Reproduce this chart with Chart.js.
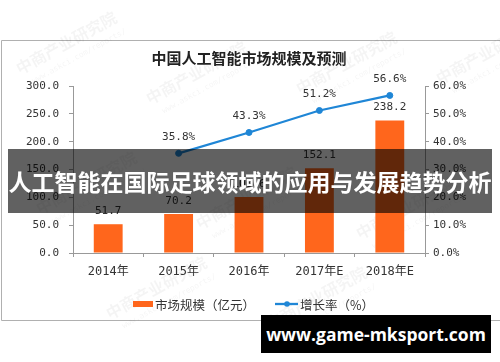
<!DOCTYPE html>
<html><head><meta charset="utf-8">
<script src="https://cdn.jsdelivr.net/npm/chart.js@4"></script>
<style>
html,body{margin:0;padding:0;background:#fff;}
#wrap{position:relative;width:500px;height:362px;overflow:hidden;background:#fff;}
#c{position:absolute;left:0;top:0;}
#banner{position:absolute;left:8px;top:149px;width:484px;height:64px;background:rgba(0,0,0,0.62);color:#fff;font:bold 23px "Noto Sans CJK SC",sans-serif;line-height:64px;text-align:center;white-space:nowrap;letter-spacing:0px;}
#site{position:absolute;left:261px;top:315px;width:230px;height:38px;background:#000;color:#fff;font:bold 17.5px "Open Sans","Noto Sans",sans-serif;line-height:38px;text-align:center;white-space:nowrap;}
</style></head>
<body>
<div id="wrap">
<canvas id="c" width="500" height="362"></canvas>
<div id="banner">人工智能在国际足球领域的应用与发展趋势分析</div>
<div id="site">www.game-mksport.com</div>
</div>
<script>
const categories = ['2014年','2015年','2016年','2017年E','2018年E'];
const marketSize = [51.7, 70.2, 100.6, 152.1, 238.2];
const growthRate = [null, 35.8, 43.3, 51.2, 56.6];
const leftTicks = [0, 50, 100, 150, 200, 250, 300];
const rightTicks = [0, 10, 20, 30, 40, 50, 60];
const chartTitle = '中国人工智能市场规模及预测';
const legendLabels = ['市场规模（亿元）', '增长率（%）'];

const ORANGE = '#ff661c';
const BLUE = '#1f86d6';
const MONO = '"DejaVu Sans Mono","Noto Sans CJK SC",monospace';
const CJK = '"Noto Sans CJK SC",sans-serif';

const decor = {
  id: 'decor',
  beforeDraw(chart) {
    const ctx = chart.ctx;
    ctx.save();
    ctx.strokeStyle = '#b0b0b0';
    ctx.lineWidth = 1;
    ctx.beginPath();
    ctx.moveTo(500, 40.5); ctx.lineTo(1.5, 40.5); ctx.lineTo(1.5, 320.5); ctx.lineTo(500, 320.5);
    ctx.stroke();
    // faint watermarks
    ctx.fillStyle = 'rgba(0,0,0,0.045)';
    const marks = [[20,75],[150,105],[300,95],[440,85],[40,215],[200,230],[360,240],[110,320],[270,330]];
    marks.forEach(([x,y]) => {
      ctx.save(); ctx.translate(x, y); ctx.rotate(-0.5);
      ctx.font = 'bold 16px ' + CJK;
      ctx.fillText('中商产业研究院', 0, 0);
      ctx.font = '8px ' + MONO;
      ctx.fillText('www.askci.com/reports/', 8, 14);
      ctx.restore();
    });
    ctx.restore();
  },
  afterDatasetsDraw(chart) {
    const ctx = chart.ctx;
    ctx.save();
    ctx.font = '11px ' + MONO;
    ctx.fillStyle = '#333';
    ctx.textAlign = 'center';
    ctx.textBaseline = 'middle';
    chart.getDatasetMeta(1).data.forEach((el, i) => {
      ctx.fillText(marketSize[i].toFixed(1), el.x, el.y - 13);
    });
    chart.getDatasetMeta(0).data.forEach((el, i) => {
      if (growthRate[i] != null) ctx.fillText(growthRate[i].toFixed(1) + '%', el.x, el.y - 16);
    });
    // title
    ctx.font = 'bold 15px ' + CJK;
    ctx.fillStyle = '#222';
    ctx.fillText(chartTitle, 249, 58);
    // legend
    ctx.fillStyle = ORANGE;
    ctx.fillRect(133, 301, 20, 6);
    ctx.fillStyle = '#333';
    ctx.textAlign = 'left';
    ctx.font = '12.5px ' + CJK;
    ctx.fillText(legendLabels[0], 155, 305);
    ctx.strokeStyle = BLUE; ctx.lineWidth = 2.3;
    ctx.beginPath(); ctx.moveTo(275, 304); ctx.lineTo(298, 304); ctx.stroke();
    ctx.fillStyle = BLUE;
    ctx.beginPath(); ctx.arc(287, 304, 2.8, 0, Math.PI * 2); ctx.fill();
    ctx.fillStyle = '#333';
    ctx.fillText(legendLabels[1], 300, 305);
    ctx.restore();
  }
};

new Chart(document.getElementById('c'), {
  data: {
    labels: categories,
    datasets: [
      { type: 'line', label: legendLabels[1], data: growthRate, yAxisID: 'y1', order: 0,
        borderColor: BLUE, backgroundColor: BLUE, borderWidth: 2.3, pointRadius: 3, pointBorderWidth: 1,
        pointBackgroundColor: BLUE, pointBorderColor: BLUE, tension: 0, spanGaps: false },
      { type: 'bar', label: legendLabels[0], data: marketSize, yAxisID: 'y', order: 1,
        backgroundColor: ORANGE, barPercentage: 0.41, categoryPercentage: 1.0 }
    ]
  },
  options: {
    responsive: false,
    animation: false,
    devicePixelRatio: 1,
    layout: { padding: { top: 86, left: 0, right: 0, bottom: 0 } },
    plugins: { legend: { display: false }, title: { display: false }, tooltip: { enabled: false } },
    scales: {
      x: {
        offset: true,
        grid: { display: true, drawOnChartArea: false, drawTicks: true, tickLength: 4, color: '#999', offset: true },
        border: { color: '#999' },
        ticks: { font: { family: MONO, size: 12 }, color: '#333', padding: 8, maxRotation: 0 },
        afterFit(s) { s.height = 109; }
      },
      y: {
        position: 'left', min: 0, max: 300,
        afterBuildTicks(s) { s.ticks = leftTicks.map(v => ({ value: v })); },
        ticks: { callback: v => Number(v).toFixed(1), padding: 10, font: { family: MONO, size: 11 }, color: '#333' },
        grid: { drawOnChartArea: false, drawTicks: true, tickLength: 4, color: '#999' },
        border: { color: '#999' },
        afterFit(s) { s.width = 73; }
      },
      y1: {
        position: 'right', min: 0, max: 60,
        afterBuildTicks(s) { s.ticks = rightTicks.map(v => ({ value: v })); },
        ticks: { callback: v => Number(v).toFixed(1) + '%', padding: 4, font: { family: MONO, size: 11 }, color: '#333' },
        grid: { drawOnChartArea: false, drawTicks: true, tickLength: 4, color: '#999' },
        border: { color: '#999' },
        afterFit(s) { s.width = 75; }
      }
    }
  },
  plugins: [decor]
});
</script>
</body></html>
